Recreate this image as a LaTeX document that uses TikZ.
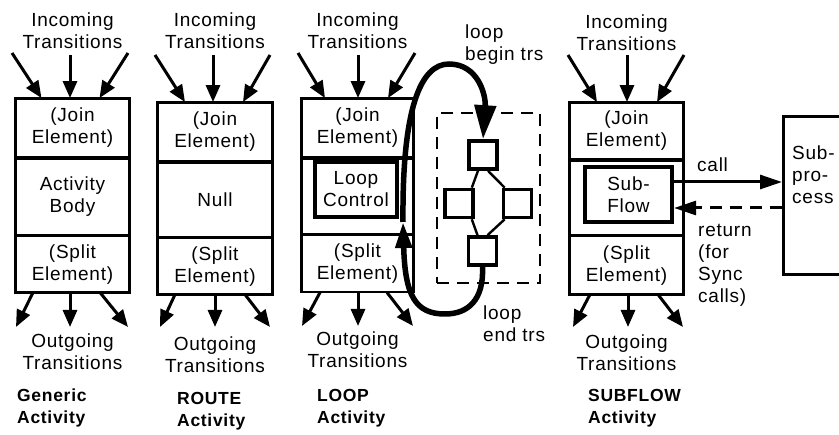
\documentclass[tikz,border=0pt]{standalone}
\usepackage{fontspec}
\setmainfont{Liberation Sans}[LetterSpace=4]
\usetikzlibrary{arrows.meta}

\tikzset{
  txt/.style={align=center, inner sep=0pt},
  ltxt/.style={align=left, inner sep=0pt, anchor=west},
  title/.style={align=left, inner sep=0pt, anchor=west, font=\fontsize{17.5}{22}\selectfont\bfseries},
  rowbox/.style={draw, line width=1.8pt, align=center, inner sep=0pt},
  outerbox/.style={draw, line width=3pt},
  innerbox/.style={draw, line width=4.2pt, align=center, inner sep=0pt},
  trarrow/.style={line width=3pt, -{Triangle[length=17pt,width=14pt]}},
  bigarrow/.style={line width=3pt, -{Triangle[length=22pt,width=14pt]}},
  loopline/.style={line width=5.5pt},
  sq/.style={draw, line width=3.6pt, minimum width=28pt, minimum height=28pt, inner sep=0pt},
}

\begin{document}
\begin{tikzpicture}[x=1pt, y=-1pt, font=\fontsize{19}{22}\selectfont]
\useasboundingbox (0,0) rectangle (839,435);

% ---------------- Generic activity ----------------
\node[txt] (gin) at (72.5,31) {Incoming\\Transitions};
\node[rowbox, minimum width=113pt, minimum height=58pt] (gj) at (72.5,128) {(Join\\Element)};
\node[rowbox, minimum width=113pt, minimum height=76pt, anchor=north] (gb) at (gj.south) {Activity\\Body};
\node[rowbox, minimum width=113pt, minimum height=55pt, anchor=north] (gs) at (gb.south) {(Split\\Element)};
\draw[outerbox] (gj.north west) rectangle (gs.south east);
\draw[line width=3pt] (gb.south west) -- (gb.south east);
\coordinate (gi1) at (12,53); \coordinate (gi2) at (70,55); \coordinate (gi3) at (128,53);
\draw[trarrow] (gi1) -- ([xshift=-31pt]gj.north);
\draw[trarrow] (gi2) -- ([xshift=-2.5pt]gj.north);
\draw[trarrow] (gi3) -- ([xshift=27pt]gj.north);
\coordinate (go1) at (16,327); \coordinate (go2) at (70,327); \coordinate (go3) at (128,327);
\draw[trarrow] ([xshift=-39.5pt]gs.south) -- (go1);
\draw[trarrow] ([xshift=-2.5pt]gs.south) -- (go2);
\draw[trarrow] ([xshift=27.5pt]gs.south) -- (go3);
\node[txt] (gout) at (72.5,352) {Outgoing\\Transitions};
\node[title] (gt) at (17,408) {Generic\\Activity};

% ---------------- ROUTE activity ----------------
\node[txt] (rin) at (215,31) {Incoming\\Transitions};
\node[rowbox, minimum width=114pt, minimum height=58pt] (rj) at (215,132) {(Join\\Element)};
\node[rowbox, minimum width=114pt, minimum height=74pt, anchor=north] (rb) at (rj.south) {Null};
\node[rowbox, minimum width=114pt, minimum height=55pt, anchor=north] (rs) at (rb.south) {(Split\\Element)};
\draw[outerbox] (rj.north west) rectangle (rs.south east);
\draw[line width=3pt] (rj.south west) -- (rj.south east);
\coordinate (ri1) at (155,55); \coordinate (ri2) at (213,55); \coordinate (ri3) at (270,55);
\draw[trarrow] (ri1) -- ([xshift=-30pt]rj.north);
\draw[trarrow] (ri2) -- ([xshift=-2pt]rj.north);
\draw[trarrow] (ri3) -- ([xshift=28pt]rj.north);
\coordinate (ro1) at (160,327); \coordinate (ro2) at (215,327); \coordinate (ro3) at (270,327);
\draw[trarrow] ([xshift=-40pt]rs.south) -- (ro1);
\draw[trarrow] (rs.south) -- (ro2);
\draw[trarrow] ([xshift=30pt]rs.south) -- (ro3);
\node[txt] (rout) at (215,355) {Outgoing\\Transitions};
\node[title] (rt) at (177,411) {ROUTE\\Activity};

% ---------------- LOOP activity ----------------
\node[txt] (lin) at (357.5,31) {Incoming\\Transitions};
\node[rowbox, minimum width=111pt, minimum height=58pt] (lj) at (357.5,128) {(Join\\Element)};
\node[rowbox, minimum width=111pt, minimum height=75pt, anchor=north] (lb) at (lj.south) {};
\node[rowbox, minimum width=111pt, minimum height=56pt, anchor=north] (ls) at (lb.south) {(Split\\Element)};
\draw[line width=2pt] (lj.north west) rectangle (ls.south east);
\node[innerbox, minimum width=82pt, minimum height=55pt] (lc) at (356,189.5) {Loop\\Control};
\coordinate (li1) at (298,53); \coordinate (li2) at (358,55); \coordinate (li3) at (415,53);
\draw[trarrow] (li1) -- ([xshift=-32.5pt]lj.north);
\draw[trarrow] (li2) -- ([xshift=0.5pt]lj.north);
\draw[trarrow] (li3) -- ([xshift=30.5pt]lj.north);
\coordinate (lo1) at (302,326); \coordinate (lo2) at (358,326); \coordinate (lo3) at (413,326);
\draw[trarrow] ([xshift=-37.5pt]ls.south) -- (lo1);
\draw[trarrow] ([xshift=0.5pt]ls.south) -- (lo2);
\draw[trarrow] ([xshift=29.5pt]ls.south) -- (lo3);
\node[txt] (lout) at (357.5,350) {Outgoing\\Transitions};
\node[title] (lt) at (317,408) {LOOP\\Activity};

% loop body: dashed frame with four steps
\node[draw, dash pattern=on 12pt off 8pt, line width=2.6pt, minimum width=103pt, minimum height=170pt] (lbody) at (488.5,198) {};
\node[sq] (sqt) at (483,155) {};
\node[sq] (sql) at (459,203.5) {};
\node[sq] (sqr) at (517.5,203.5) {};
\node[sq] (sqb) at (482.5,251) {};
\draw[line width=2.4pt] ([xshift=-5pt]sqt.south) -- ([xshift=-3pt]sql.north east);
\draw[line width=2.4pt] ([xshift=5pt]sqt.south) -- ([xshift=3pt]sqr.north west);
\draw[line width=2.4pt] ([xshift=-3pt]sql.south east) -- ([xshift=-5pt]sqb.north);
\draw[line width=2.4pt] ([xshift=3pt]sqr.south west) -- ([xshift=5pt]sqb.north);

% loop begin / end transitions
\coordinate (lbs) at (403,222);
\draw[loopline, -{Triangle[length=34pt,width=21pt]}] (lbs) .. controls (402,110) and (420,64) .. (449,64)
  .. controls (478,64) and (486,95) .. (sqt.north);
\draw[loopline, -{Triangle[length=26pt,width=16pt]}] (sqb.south) .. controls (484,300) and (468,314) .. (445,314)
  .. controls (415,314) and (405,295) .. (lbs);
\node[ltxt] (lbt) at (465,45) {loop\\begin trs};
\node[ltxt] (let) at (483,324) {loop\\end trs};

% ---------------- SUBFLOW activity ----------------
\node[txt] (sin) at (626.5,33) {Incoming\\Transitions};
\node[rowbox, minimum width=113pt, minimum height=56pt] (sj) at (626.5,131) {(Join\\Element)};
\node[rowbox, minimum width=113pt, minimum height=74pt, anchor=north] (sb) at (sj.south) {};
\node[rowbox, minimum width=113pt, minimum height=57pt, anchor=north] (ss) at (sb.south) {(Split\\Element)};
\draw[line width=2.4pt] (sj.north west) rectangle (ss.south east);
\node[innerbox, minimum width=87pt, minimum height=55pt] (sf) at (628.5,194.5) {Sub-\\Flow};
\coordinate (si1) at (568,55); \coordinate (si2) at (627,55); \coordinate (si3) at (684,55);
\draw[trarrow] (si1) -- ([xshift=-29.5pt]sj.north);
\draw[trarrow] (si2) -- ([xshift=0.5pt]sj.north);
\draw[trarrow] (si3) -- ([xshift=30.5pt]sj.north);
\coordinate (so1) at (573,327); \coordinate (so2) at (628,327); \coordinate (so3) at (683,327);
\draw[trarrow] ([xshift=-36.5pt]ss.south) -- (so1);
\draw[trarrow] ([xshift=1.5pt]ss.south) -- (so2);
\draw[trarrow] ([xshift=31.5pt]ss.south) -- (so3);
\node[txt] (sout) at (626.5,353) {Outgoing\\Transitions};
\node[title] (st) at (588,408) {SUBFLOW\\Activity};

% sub-process and its call / return
\node[draw, line width=3pt, minimum width=90pt, minimum height=158pt, anchor=north west] (sp) at (782,115) {};
\node[ltxt] (spt) at (792,175) {Sub-\\pro-\\cess};
\draw[bigarrow] ([yshift=12.5pt]sf.east) -- ([yshift=12.5pt]sf.east -| sp.west);
\draw[bigarrow, dash pattern=on 12pt off 8pt] ([yshift=-13.5pt]sf.east -| sp.west) -- ([yshift=-13.5pt]sf.east);
\node[ltxt] (callt) at (697,165) {call};
\node[ltxt] (rett) at (698,265) {return\\(for\\Sync\\calls)};
\end{tikzpicture}
\end{document}
